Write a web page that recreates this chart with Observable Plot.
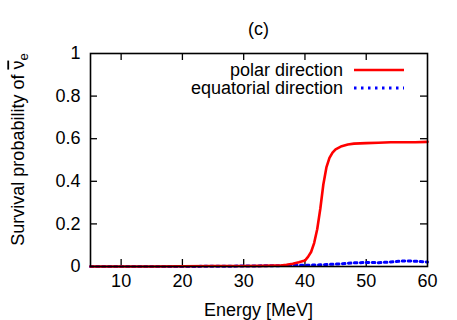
<!DOCTYPE html>
<html>
<head>
<meta charset="utf-8">
<script src="https://cdn.jsdelivr.net/npm/d3@7"></script>
<script src="https://cdn.jsdelivr.net/npm/@observablehq/plot@0.6"></script>
<style>
  html, body { margin: 0; padding: 0; background: white; }
  svg { display: block; }
</style>
</head>
<body>
<div id="chart"></div>
<script>
const energy     = [5, 10, 15, 20, 25, 30, 33, 35, 36, 37, 38, 39, 40, 40.5, 41, 41.5, 42, 42.5, 43, 43.5, 44, 44.5, 45, 46, 47, 48, 50, 52, 54, 56, 58, 60];
const polar      = [0, 0, 0, 0.001, 0.002, 0.002, 0.003, 0.004, 0.005, 0.008, 0.013, 0.02, 0.028, 0.045, 0.068, 0.11, 0.175, 0.27, 0.385, 0.465, 0.51, 0.535, 0.55, 0.565, 0.573, 0.577, 0.579, 0.581, 0.583, 0.583, 0.583, 0.585];
const equatorial = [0, 0, 0, 0, 0.001, 0.002, 0.003, 0.004, 0.004, 0.005, 0.005, 0.006, 0.006, 0.006, 0.007, 0.007, 0.007, 0.008, 0.008, 0.009, 0.01, 0.01, 0.011, 0.013, 0.015, 0.017, 0.019, 0.018, 0.021, 0.026, 0.025, 0.021];
const xTicks = [10, 20, 30, 40, 50, 60];
const yTicks = [0, 0.2, 0.4, 0.6, 0.8, 1];
const seriesNames = ["polar direction", "equatorial direction"];
const seriesColors = ["#ff0000", "#0000ff"];

const polarData = energy.map((e, i) => ({e, p: polar[i]}));
const eqData = energy.map((e, i) => ({e, p: equatorial[i]}));

const W = 457, H = 320, ML = 90, MR = 30, MT = 53, MB = 54;
const IW = W - ML - MR, IH = H - MT - MB;
const TL = 7;
const FS = 18;
const font = "'Liberation Sans', Arial, Helvetica, sans-serif";

const chart = Plot.plot({
  width: W, height: H,
  marginLeft: ML, marginRight: MR, marginTop: MT, marginBottom: MB,
  style: {fontFamily: font, fontSize: FS + "px", color: "black", background: "white"},
  x: {domain: [5, 60], label: null},
  y: {domain: [0, 1], label: null},
  marks: [
    Plot.axisX(xTicks, {tickSize: 0, tickPadding: 8, tickFormat: d => String(d), label: null, fontSize: FS}),
    Plot.axisY(yTicks, {tickSize: 0, tickPadding: 10, tickFormat: d => String(d), label: null, fontSize: FS}),
    Plot.tickX(xTicks.slice(0, -1), {x: d => d, insetTop: IH - TL, stroke: "black", strokeWidth: 1.3}),
    Plot.tickX(xTicks.slice(0, -1), {x: d => d, insetBottom: IH - TL, stroke: "black", strokeWidth: 1.3}),
    Plot.tickY(yTicks.slice(1, -1), {y: d => d, insetRight: IW - TL, stroke: "black", strokeWidth: 1.3}),
    Plot.tickY(yTicks.slice(1, -1), {y: d => d, insetLeft: IW - TL, stroke: "black", strokeWidth: 1.3}),
    Plot.line(eqData, {x: "e", y: "p", stroke: seriesColors[1], strokeWidth: 3, strokeDasharray: "2.5,3.5"}),
    Plot.line(polarData, {x: "e", y: "p", stroke: seriesColors[0], strokeWidth: 2.6}),
    Plot.frame({stroke: "black", strokeWidth: 1.6})
  ]
});

document.getElementById("chart").appendChild(chart);
const svg = d3.select(chart);

// Title
svg.append("text").attr("x", ML + IW / 2).attr("y", 29).attr("dy", "0.35em")
  .attr("text-anchor", "middle").attr("font-family", font).attr("font-size", FS)
  .attr("fill", "black").text("(c)");

// X label
svg.append("text").attr("x", ML + IW / 2).attr("y", 310).attr("dy", "0.35em")
  .attr("text-anchor", "middle").attr("font-family", font).attr("font-size", FS)
  .attr("fill", "black").text("Energy [MeV]");

// Y label
const yl = svg.append("text").attr("transform", `translate(18,${MT + IH / 2 - 10}) rotate(-90)`)
  .attr("dy", "0.35em").attr("text-anchor", "middle").attr("font-family", font).attr("font-size", FS)
  .attr("fill", "black");
yl.append("tspan").text("Survival probability of ");
yl.append("tspan").style("text-decoration", "overline").text("ν");
yl.append("tspan").attr("dy", "0.3em").attr("font-size", 13).text("e");

// Legend
const lg = svg.append("g");
seriesNames.forEach((name, i) => {
  const y = 70 + i * 18;
  lg.append("text").attr("x", 343).attr("y", y).attr("dy", "0.35em")
    .attr("text-anchor", "end").attr("font-family", font).attr("font-size", FS)
    .attr("fill", "black").text(name);
  lg.append("line").attr("x1", 354).attr("x2", 404).attr("y1", y).attr("y2", y)
    .attr("stroke", seriesColors[i]).attr("stroke-width", i === 1 ? 3 : 2.6)
    .attr("stroke-dasharray", i === 1 ? "2.5,4.5" : null);
});
</script>
</body>
</html>
